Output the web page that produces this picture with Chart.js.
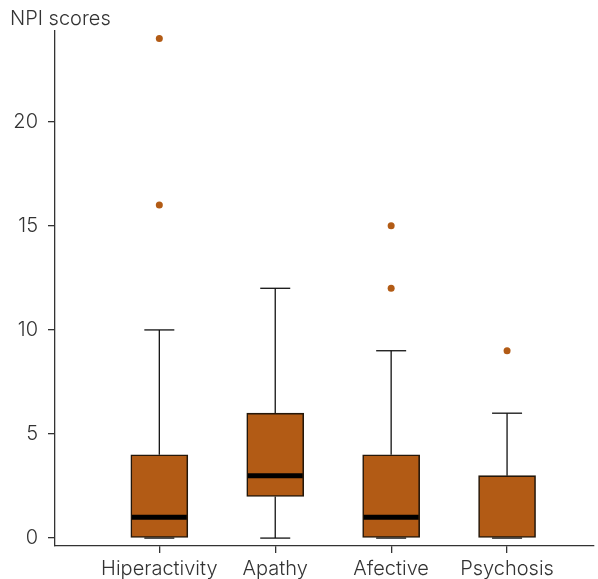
<!DOCTYPE html>
<html>
<head>
<meta charset="utf-8">
<script src="https://cdn.jsdelivr.net/npm/chart.js@4"></script>
<style>
  body { margin: 0; background: #fff; }
  #wrap { width: 598px; height: 579px; }
</style>
</head>
<body>
<div id="wrap"><canvas id="chart"></canvas></div>
<script>
// Data
const categories = ['Hiperactivity', 'Apathy', 'Afective', 'Psychosis'];
const whiskerLow = [0, 0, 0, 0];
const q1 = [0, 2, 0, 0];
const median = [1, 3, 1, null]; // no median line visible for Psychosis
const q3 = [4, 6, 4, 3];
const whiskerHigh = [10, 12, 9, 6];
const outliers = [[16, 24], [], [12, 15], [9]];
const yTicks = [0, 5, 10, 15, 20];

const boxColor = '#b25b15';
const inkColor = '#333333';
const font = { family: 'Inter, "Liberation Sans", sans-serif', size: 20, weight: 300 };

const boxWidth = 57;
const capWidth = 30;

// whiskers + caps go under the boxes, medians on top
const boxPlotLines = {
  id: 'boxPlotLines',
  beforeDatasetsDraw(chart) {
    const { ctx, scales: { x, y } } = chart;
    ctx.save();
    ctx.strokeStyle = '#111';
    ctx.lineWidth = 1.3;
    categories.forEach((c, i) => {
      const px = x.getPixelForValue(i + 1);
      const segs = [[q3[i], whiskerHigh[i]], [whiskerLow[i], q1[i]]];
      segs.forEach(([a, b]) => {
        ctx.beginPath();
        ctx.moveTo(px, y.getPixelForValue(a));
        ctx.lineTo(px, y.getPixelForValue(b));
        ctx.stroke();
      });
      [whiskerLow[i], whiskerHigh[i]].forEach(v => {
        const py = y.getPixelForValue(v);
        ctx.beginPath();
        ctx.moveTo(px - capWidth / 2, py);
        ctx.lineTo(px + capWidth / 2, py);
        ctx.stroke();
      });
    });
    ctx.restore();
  },
  afterDatasetsDraw(chart) {
    const { ctx, scales: { x, y } } = chart;
    ctx.save();
    ctx.strokeStyle = '#000';
    ctx.lineWidth = 5;
    categories.forEach((c, i) => {
      if (median[i] === null) return;
      const px = x.getPixelForValue(i + 1);
      const py = y.getPixelForValue(median[i]);
      ctx.beginPath();
      ctx.moveTo(px - boxWidth / 2 + 1, py);
      ctx.lineTo(px + boxWidth / 2 - 1, py);
      ctx.stroke();
    });
    ctx.restore();
  }
};

const outlierPoints = [];
outliers.forEach((list, i) => list.forEach(v => outlierPoints.push({ x: i + 1, y: v })));

new Chart(document.getElementById('chart'), {
  type: 'bar',
  data: {
    datasets: [
      {
        type: 'bar',
        data: categories.map((c, i) => ({ x: i + 1, y: [q1[i], q3[i]] })),
        backgroundColor: boxColor,
        borderColor: '#24170a',
        borderWidth: 1.6,
        borderSkipped: false,
        barThickness: boxWidth
      },
      {
        type: 'scatter',
        data: outlierPoints,
        backgroundColor: boxColor,
        borderWidth: 0,
        pointRadius: 3.5
      }
    ]
  },
  options: {
    responsive: true,
    maintainAspectRatio: false,
    animation: false,
    layout: { padding: { left: 10, right: 0, top: 0, bottom: 0 } },
    plugins: {
      legend: { display: false },
      tooltip: { enabled: false },
      title: {
        display: true,
        text: 'NPI scores',
        align: 'start',
        color: inkColor,
        font,
        padding: { top: 7, bottom: 0 }
      }
    },
    scales: {
      x: {
        type: 'linear',
        offset: false,
        min: 0.1,
        max: 4.75,
        afterBuildTicks: s => { s.ticks = categories.map((c, i) => ({ value: i + 1 })); },
        afterFit: s => { s.height = 33; },
        ticks: {
          callback: v => categories[v - 1],
          color: inkColor,
          font,
          padding: 4,
          maxRotation: 0,
          autoSkip: false
        },
        grid: { offset: false, drawOnChartArea: false, drawTicks: true, tickLength: 7, color: inkColor, lineWidth: 1.3 },
        border: { display: true, color: inkColor, width: 1.3 }
      },
      y: {
        min: -0.38,
        max: 24.36,
        afterBuildTicks: s => { s.ticks = yTicks.map(v => ({ value: v })); },
        afterFit: s => { s.width = 45; },
        ticks: { color: inkColor, font, padding: 10 },
        grid: { drawOnChartArea: false, drawTicks: true, tickLength: 7, color: inkColor, lineWidth: 1.3 },
        border: { display: true, color: inkColor, width: 1.3 }
      }
    }
  },
  plugins: [boxPlotLines]
});
</script>
</body>
</html>
